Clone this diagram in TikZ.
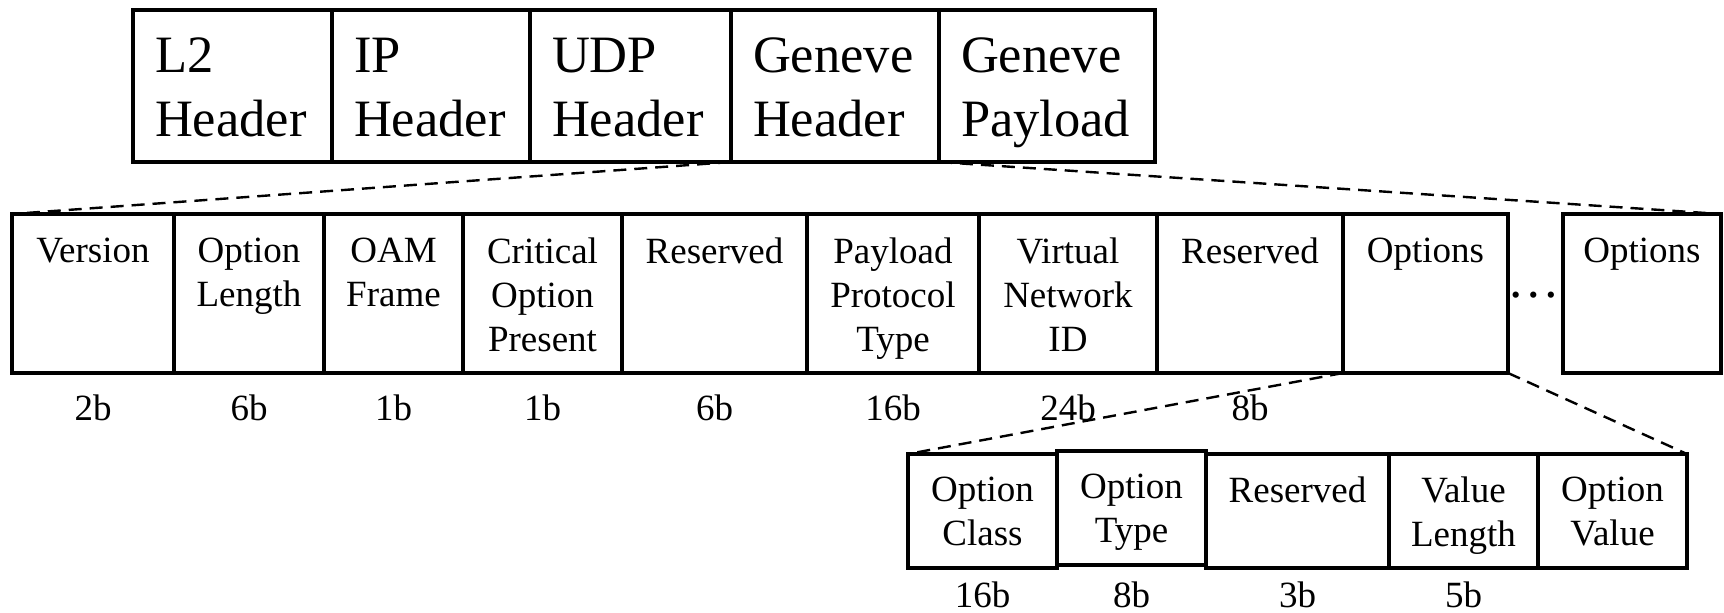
\documentclass[tikz,border=0pt]{standalone}
\usepackage{fontspec}
\setmainfont{Liberation Serif}
\usetikzlibrary{positioning}
\newcommand{\HeadFont}{\fontsize{52.5}{64}\selectfont}
\newcommand{\FieldFont}{\fontsize{37}{44}\selectfont}

\begin{document}
\begin{tikzpicture}[
x=1pt, y=-1pt,
MyField/.style={draw, line width=4.5pt, inner sep=0pt, outer sep=0pt, anchor=north west},
TopText/.style={font=\HeadFont, align=left, inner sep=0pt, outer sep=0pt},
FieldText/.style={font=\FieldFont, align=center, inner sep=0pt, outer sep=0pt},
Bits/.style={font=\FieldFont, inner sep=0pt, outer sep=0pt},
ZoomLine/.style={line width=2.4pt, dash pattern=on 13pt off 8pt}
]
\useasboundingbox (0,0) rectangle (1724,613);

% outer packet
\node[MyField, minimum width=199pt, minimum height=152pt] (l2)  at (133,10) {};
\node[MyField, minimum width=198pt, minimum height=152pt] (ip)  at (332,10) {};
\node[MyField, minimum width=201pt, minimum height=152pt] (udp) at (530,10) {};
\node[MyField, minimum width=208pt, minimum height=152pt] (gh)  at (731,10) {};
\node[MyField, minimum width=216pt, minimum height=152pt] (gp)  at (939,10) {};

\node[TopText, below right=28pt and 22pt of l2.north west]  (l2-t)  {L2\\Header};
\node[TopText, below right=28pt and 22pt of ip.north west]  (ip-t)  {IP\\Header};
\node[TopText, below right=28pt and 22pt of udp.north west] (udp-t) {UDP\\Header};
\node[TopText, below right=28pt and 22pt of gh.north west]  (gh-t)  {Geneve\\Header};
\node[TopText, below right=28pt and 22pt of gp.north west]  (gp-t)  {Geneve\\Payload};

% Geneve header
\node[MyField, minimum width=162pt, minimum height=159pt] (ver)    at (12,214) {};
\node[MyField, minimum width=150pt, minimum height=159pt] (optlen) at (174,214) {};
\node[MyField, minimum width=139pt, minimum height=159pt] (oam)    at (324,214) {};
\node[MyField, minimum width=159pt, minimum height=159pt] (crit)   at (463,214) {};
\node[MyField, minimum width=185pt, minimum height=159pt] (res1)   at (622,214) {};
\node[MyField, minimum width=172pt, minimum height=159pt] (ppt)    at (807,214) {};
\node[MyField, minimum width=178pt, minimum height=159pt] (vni)    at (979,214) {};
\node[MyField, minimum width=186pt, minimum height=159pt] (res2)   at (1157,214) {};
\node[MyField, minimum width=165pt, minimum height=159pt] (opt1)   at (1343,214) {};
\node[MyField, minimum width=158pt, minimum height=159pt] (optn)   at (1563,214) {};

\node[FieldText, below=24pt of ver.north]    (ver-t)    {Version};
\node[FieldText, below=24pt of optlen.north] (optlen-t) {Option\\Length};
\node[FieldText, below=24pt of oam.north]    (oam-t)    {OAM\\Frame};
\node[FieldText, below=24pt of crit.north]   (crit-t)   {Critical\\Option\\Present};
\node[FieldText, below=24pt of res1.north]   (res1-t)   {Reserved};
\node[FieldText, below=24pt of ppt.north]    (ppt-t)    {Payload\\Protocol\\Type};
\node[FieldText, below=24pt of vni.north]    (vni-t)    {Virtual\\Network\\ID};
\node[FieldText, below=24pt of res2.north]   (res2-t)   {Reserved};
\node[FieldText, below=24pt of opt1.north]   (opt1-t)   {Options};
\node[FieldText, below=24pt of optn.north]   (optn-t)   {Options};

\node[font=\HeadFont, inner sep=0pt, anchor=base] (dots) at (1534,297) {…};

\node[Bits, below=22pt of ver.south]    (ver-b)    {2b};
\node[Bits, below=22pt of optlen.south] (optlen-b) {6b};
\node[Bits, below=22pt of oam.south]    (oam-b)    {1b};
\node[Bits, below=22pt of crit.south]   (crit-b)   {1b};
\node[Bits, below=22pt of res1.south]   (res1-b)   {6b};
\node[Bits, below=22pt of ppt.south]    (ppt-b)    {16b};
\node[Bits, below=22pt of vni.south]    (vni-b)    {24b};
\node[Bits, below=22pt of res2.south]   (res2-b)   {8b};

% one option
\node[MyField, minimum width=149pt, minimum height=114pt] (oclass) at (908,454) {};
\node[MyField, minimum width=149pt, minimum height=114pt] (otype)  at (1057,451) {};
\node[MyField, minimum width=183pt, minimum height=114pt] (ores)   at (1206,454) {};
\node[MyField, minimum width=149pt, minimum height=114pt] (vlen)   at (1389,454) {};
\node[MyField, minimum width=149pt, minimum height=114pt] (oval)   at (1538,454) {};

\node[FieldText, below=23pt of oclass.north] (oclass-t) {Option\\Class};
\node[FieldText, below=23pt of otype.north]  (otype-t)  {Option\\Type};
\node[FieldText, below=23pt of ores.north]   (ores-t)   {Reserved};
\node[FieldText, below=23pt of vlen.north]   (vlen-t)   {Value\\Length};
\node[FieldText, below=23pt of oval.north]   (oval-t)   {Option\\Value};

\node[Bits, below=14pt of oclass.south] (oclass-b) {16b};
\node[Bits, below=17pt of otype.south]  (otype-b)  {8b};
\node[Bits, below=14pt of ores.south]   (ores-b)   {3b};
\node[Bits, below=14pt of vlen.south]   (vlen-b)   {5b};

% zoom lines
\draw[ZoomLine] (gh.south west) -- (ver.north west);
\draw[ZoomLine] (gh.south east) -- (optn.north east);
\draw[ZoomLine] (opt1.south west) -- (oclass.north west);
\draw[ZoomLine] (opt1.south east) -- (oval.north east);

\end{tikzpicture}
\end{document}
